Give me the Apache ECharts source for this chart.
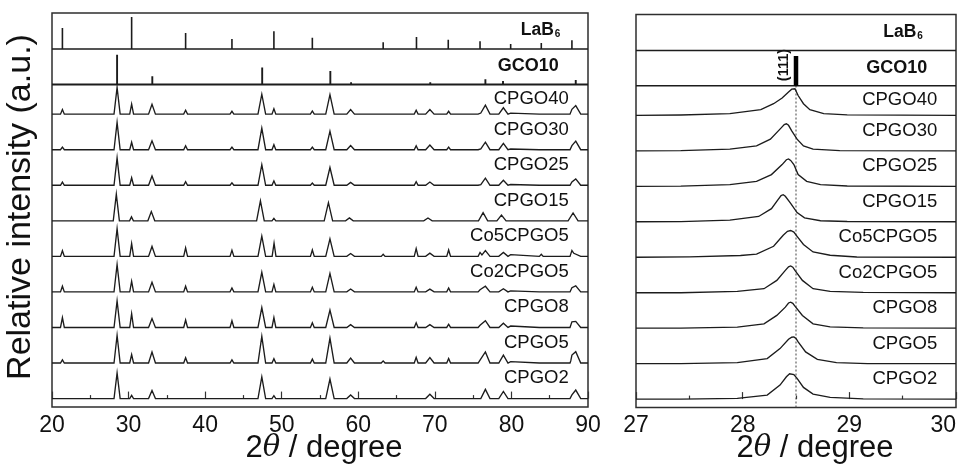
<!DOCTYPE html>
<html><head><meta charset="utf-8">
<script src="https://cdn.jsdelivr.net/npm/echarts@6/dist/echarts.min.js"></script>
<style>html,body{margin:0;padding:0;background:#fff}#c{width:971px;height:468px}</style>
</head><body><div id="c"></div>
<script>
// ---------------- DATA ----------------
// strip order, top to bottom
const stripNames = ['LaB6','GCO10','CPGO40','CPGO30','CPGO25','CPGO15','Co5CPGO5','Co2CPGO5','CPGO8','CPGO5','CPGO2'];
const xTicksLeft = [20,30,40,50,60,70,80,90];
const xTicksRight = [27,28,29,30];

// reference stick patterns [2theta, relative height]
const lab6Sticks = [[21.36,0.59],[30.4,0.90],[37.45,0.45],[43.5,0.28],[48.98,0.50],[54.0,0.32],[63.25,0.19],[67.6,0.34],[71.75,0.26],[75.9,0.22],[79.9,0.14],[83.9,0.17],[87.9,0.25]];
const gco10Sticks = [[28.5,0.84],[33.1,0.23],[47.45,0.48],[56.35,0.38],[59.06,0.06],[69.4,0.06],[76.6,0.15],[78.9,0.1],[88.4,0.13]];

// full patterns: peaks [2theta, height, half base width]
const peaksCPGO40 = [[21.36,0.13,0.25],[28.5,0.75,0.4],[30.4,0.28,0.25],[33.06,0.28,0.45],[37.45,0.11,0.25],[43.5,0.08,0.25],[47.4,0.56,0.5],[48.98,0.15,0.25],[54.0,0.09,0.25],[56.3,0.55,0.55],[59.0,0.13,0.5],[63.25,0.04,0.25],[67.56,0.11,0.25],[69.35,0.13,0.55],[71.8,0.08,0.25],[75.9,0.05,0.25],[76.6,0.25,0.6],[78.95,0.18,0.6],[79.9,0.03,0.25],[83.9,0.04,0.25],[87.9,0.08,0.25],[88.4,0.24,0.65]];
const peaksCPGO30 = [[21.36,0.07,0.25],[28.5,0.77,0.4],[30.4,0.21,0.25],[33.06,0.25,0.45],[37.45,0.11,0.25],[43.5,0.07,0.25],[47.4,0.61,0.5],[48.98,0.14,0.25],[54.0,0.07,0.25],[56.3,0.52,0.55],[59.0,0.12,0.5],[63.25,0.02,0.25],[67.56,0.11,0.25],[69.35,0.13,0.55],[71.8,0.07,0.25],[75.9,0.04,0.25],[76.6,0.21,0.6],[78.95,0.18,0.6],[79.9,0.02,0.25],[83.9,0.04,0.25],[87.9,0.06,0.25],[88.4,0.24,0.65]];
const peaksCPGO25 = [[21.36,0.09,0.25],[28.5,0.77,0.4],[30.4,0.21,0.25],[33.06,0.26,0.45],[37.45,0.10,0.25],[43.5,0.07,0.25],[47.4,0.58,0.5],[48.98,0.12,0.25],[54.0,0.06,0.25],[56.3,0.50,0.55],[59.0,0.08,0.5],[63.25,0.02,0.25],[67.56,0.10,0.25],[69.35,0.09,0.55],[71.8,0.05,0.25],[75.9,0.03,0.25],[76.6,0.20,0.6],[78.95,0.14,0.6],[79.9,0.02,0.25],[83.9,0.02,0.25],[87.9,0.05,0.25],[88.4,0.18,0.65]];
const peaksCPGO15 = [[21.36,0.05,0.25],[28.4,0.75,0.4],[30.38,0.11,0.25],[32.97,0.26,0.45],[37.45,0.05,0.25],[43.5,0.03,0.25],[47.22,0.56,0.5],[48.98,0.07,0.25],[54.0,0.04,0.25],[56.1,0.51,0.55],[58.84,0.08,0.5],[63.25,0.02,0.25],[67.56,0.04,0.25],[69.1,0.08,0.55],[71.8,0.03,0.25],[76.3,0.23,0.6],[78.7,0.16,0.6],[83.9,0.02,0.25],[88.05,0.22,0.65]];
const peaksCo5CPGO5 = [[21.36,0.16,0.25],[28.5,0.78,0.4],[30.4,0.36,0.25],[33.06,0.28,0.45],[37.45,0.24,0.25],[43.5,0.17,0.25],[47.4,0.57,0.5],[49.0,0.37,0.25],[54.0,0.18,0.25],[56.3,0.49,0.55],[59.0,0.08,0.5],[63.25,0.06,0.25],[67.56,0.22,0.25],[69.35,0.09,0.55],[71.8,0.18,0.25],[75.9,0.11,0.25],[76.6,0.16,0.6],[78.95,0.11,0.6],[79.9,0.05,0.25],[83.9,0.06,0.25],[87.9,0.13,0.25],[88.4,0.14,0.65]];
const peaksCo2CPGO5 = [[21.36,0.16,0.25],[28.5,0.77,0.4],[30.4,0.30,0.25],[33.06,0.27,0.45],[37.45,0.16,0.25],[43.5,0.11,0.25],[47.4,0.55,0.5],[48.98,0.21,0.25],[54.0,0.13,0.25],[56.3,0.52,0.55],[59.0,0.08,0.5],[63.25,0.03,0.25],[67.56,0.13,0.25],[69.35,0.08,0.55],[71.8,0.11,0.25],[75.9,0.06,0.25],[76.6,0.16,0.6],[78.95,0.09,0.6],[79.9,0.03,0.25],[83.9,0.03,0.25],[87.9,0.08,0.25],[88.4,0.17,0.65]];
const peaksCPGO8 = [[21.36,0.28,0.25],[28.5,0.75,0.4],[30.4,0.39,0.25],[33.06,0.25,0.45],[37.45,0.21,0.25],[43.5,0.19,0.25],[47.4,0.56,0.5],[48.98,0.28,0.25],[54.0,0.13,0.25],[56.3,0.49,0.55],[59.0,0.08,0.5],[63.25,0.04,0.25],[67.56,0.13,0.25],[69.35,0.08,0.55],[71.8,0.09,0.25],[75.9,0.06,0.25],[76.6,0.19,0.6],[78.95,0.12,0.6],[79.9,0.04,0.25],[83.9,0.03,0.25],[87.9,0.12,0.25],[88.4,0.17,0.65]];
const peaksCPGO5 = [[21.36,0.09,0.25],[28.5,0.78,0.4],[30.4,0.24,0.25],[33.06,0.31,0.45],[37.45,0.15,0.25],[43.5,0.09,0.25],[47.4,0.75,0.5],[48.98,0.12,0.25],[54.0,0.11,0.25],[56.3,0.70,0.55],[59.0,0.14,0.5],[63.25,0.06,0.25],[67.56,0.16,0.25],[69.35,0.15,0.55],[71.8,0.13,0.25],[75.9,0.08,0.25],[76.6,0.31,0.6],[78.95,0.22,0.6],[79.9,0.04,0.25],[83.9,0.04,0.25],[87.9,0.15,0.25],[88.4,0.32,0.65]];
const peaksCPGO2 = [[21.36,0.05,0.25],[28.5,0.72,0.4],[30.4,0.09,0.25],[33.06,0.23,0.45],[37.45,0.03,0.25],[43.5,0.03,0.25],[47.4,0.61,0.5],[48.98,0.08,0.25],[54.0,0.05,0.25],[56.3,0.55,0.55],[59.0,0.10,0.5],[63.25,0.02,0.25],[67.56,0.05,0.25],[69.35,0.12,0.55],[71.8,0.04,0.25],[76.6,0.26,0.6],[78.95,0.20,0.6],[83.9,0.02,0.25],[87.9,0.05,0.25],[88.4,0.24,0.65]];

// (111) region 27-30 deg: [2theta, intensity above baseline]
const zoomCPGO40 = [[27,0],[27.42,0.01],[27.88,0.05],[28.17,0.16],[28.29,0.33],[28.37,0.49],[28.43,0.66],[28.46,0.74],[28.49,0.75],[28.52,0.56],[28.57,0.33],[28.63,0.16],[28.76,0.05],[28.98,0.015],[30,0]];
const zoomCPGO30 = [[27,0],[27.42,0.005],[27.88,0.048],[28.13,0.141],[28.26,0.33],[28.35,0.613],[28.39,0.74],[28.41,0.763],[28.43,0.72],[28.46,0.565],[28.51,0.33],[28.57,0.141],[28.66,0.048],[28.91,0.008],[30,0]];
const zoomCPGO25 = [[27,0],[27.42,0.005],[27.88,0.048],[28.13,0.141],[28.27,0.33],[28.37,0.613],[28.41,0.75],[28.43,0.771],[28.45,0.73],[28.48,0.613],[28.52,0.33],[28.6,0.141],[28.73,0.048],[28.98,0.008],[30,0]];
const zoomCPGO15 = [[27,0],[27.42,0.005],[27.88,0.048],[28.15,0.15],[28.27,0.37],[28.33,0.62],[28.36,0.74],[28.38,0.765],[28.4,0.72],[28.45,0.52],[28.51,0.26],[28.58,0.11],[28.73,0.028],[28.98,0.008],[30,0]];
const zoomCo5CPGO5 = [[27,0],[27.5,0.01],[27.98,0.05],[28.13,0.09],[28.29,0.31],[28.38,0.62],[28.42,0.73],[28.45,0.754],[28.48,0.71],[28.51,0.59],[28.57,0.36],[28.66,0.15],[28.82,0.056],[29.07,0.008],[30,0]];
const zoomCo2CPGO5 = [[27,0],[27.42,0],[27.95,0.037],[28.2,0.113],[28.32,0.347],[28.4,0.63],[28.43,0.73],[28.45,0.754],[28.47,0.72],[28.49,0.63],[28.56,0.347],[28.66,0.113],[28.82,0.037],[29.13,0.008],[30,0]];
const zoomCPGO8 = [[27,0],[27.42,0],[27.95,0.028],[28.2,0.121],[28.32,0.359],[28.4,0.593],[28.43,0.71],[28.45,0.734],[28.47,0.7],[28.49,0.621],[28.56,0.359],[28.66,0.121],[28.82,0.037],[29.13,0.008],[30,0]];
const zoomCPGO5 = [[27,0],[27.42,0],[27.95,0.028],[28.23,0.141],[28.35,0.424],[28.43,0.686],[28.46,0.745],[28.48,0.754],[28.5,0.71],[28.52,0.613],[28.59,0.33],[28.7,0.121],[28.88,0.028],[29.17,0],[30,0]];
const zoomCPGO2 = [[27,0],[27.42,0],[27.95,0.02],[28.23,0.113],[28.35,0.395],[28.41,0.63],[28.44,0.715],[28.455,0.726],[28.48,0.69],[28.51,0.585],[28.57,0.33],[28.66,0.141],[28.82,0.048],[29.13,0.008],[30,0]];

const samplePeaks = [peaksCPGO40,peaksCPGO30,peaksCPGO25,peaksCPGO15,peaksCo5CPGO5,peaksCo2CPGO5,peaksCPGO8,peaksCPGO5,peaksCPGO2];
const sampleZoom  = [zoomCPGO40,zoomCPGO30,zoomCPGO25,zoomCPGO15,zoomCo5CPGO5,zoomCo2CPGO5,zoomCPGO8,zoomCPGO5,zoomCPGO2];

// ---------------- LAYOUT ----------------
const yMin = -0.237, yMax = 10.845;
const stripBase = [9.831, 8.834, 8, 7, 6, 5, 4, 3, 2, 1, 0];
const FONT = '"Liberation Sans", Arial, Helvetica, sans-serif';
const INK = '#111';

function peakTrace(peaks, base, x0, x1) {
  const xs = new Set([x0, x1]);
  peaks.forEach(([p, h, w]) => { xs.add(+(p - w).toFixed(4)); xs.add(p); xs.add(+(p + w).toFixed(4)); });
  return [...xs].filter(x => x >= x0 && x <= x1).sort((a, b) => a - b)
    .map(x => [x, base + peaks.reduce((s, [p, h, w]) => s + Math.max(0, h * (1 - Math.abs(x - p) / w)), 0)]);
}
function stickTrace(sticks, base, x0, x1) {
  const pts = [[x0, base]];
  sticks.filter(s => s[0] >= x0 && s[0] <= x1).forEach(([p, h]) => pts.push([p, base], [p, base + h], [p, base]));
  pts.push([x1, base]);
  return pts;
}
function line(data, ax, width, extra) {
  return Object.assign({ type: 'line', xAxisIndex: ax, yAxisIndex: ax, data, symbol: 'none', showSymbol: false,
    silent: true, animation: false, clip: true, lineStyle: { color: '#1c1c1c', width, join: 'miter' }, z: 3 }, extra || {});
}

const series = [];
// left panel
series.push(line(stickTrace(lab6Sticks, stripBase[0], 20, 90), 0, 1.6));
series.push(line(stickTrace(gco10Sticks, stripBase[1], 20, 90), 0, 1.9));
samplePeaks.forEach((pk, i) => series.push(line(peakTrace(pk, stripBase[i + 2], 20, 90), 0, 1.35)));
// right panel
series.push(line(stickTrace([], stripBase[0], 27, 30), 1, 1.5));
series.push(line(stickTrace([], stripBase[1], 27, 30), 1, 1.5));
gco10Sticks.filter(s => s[0] >= 27 && s[0] <= 30).forEach(([p, h]) =>
  series.push(line([[p, stripBase[1]], [p, stripBase[1] + h]], 1, 4.5, { lineStyle: { color: '#000', width: 4.5, cap: 'butt' } })));
sampleZoom.forEach((zd, i) => series.push(line(zd.map(([x, h]) => [x, stripBase[i + 2] + h]), 1, 1.35)));
// dashed reference line at GCO10 (111)
const ref111 = gco10Sticks[0][0];
series.push(line([[ref111, yMin], [ref111, stripBase[1]]], 1, 1, { lineStyle: { color: '#444', width: 1, type: [2, 2] }, z: 2 }));

// strip labels
function labelItems(xNormal, xBold, xLab) {
  return stripNames.map((nm, k) => {
    const above = k === 0 ? yMax : stripBase[k - 1];
    const y = (stripBase[k] + above) / 2 + (k >= 3 ? 0.07 : 0.01);
    const item = { name: nm, value: [k === 0 ? xLab : (k === 1 ? xBold : xNormal), y] };
    if (k === 0) item.label = { formatter: '{m|LaB}{s|6}' };
    else if (k === 1) item.label = { fontWeight: 'bold', fontSize: 18 };
    return item;
  });
}
const labelCommon = { show: true, position: 'left', distance: 0, fontFamily: FONT, fontSize: 18.5, color: INK, opacity: 1,
  rich: { m: { fontFamily: FONT, fontSize: 17.5, fontWeight: 'bold', color: INK, lineHeight: 18, verticalAlign: 'top' },
          s: { fontFamily: FONT, fontSize: 10, fontWeight: 'bold', color: INK, lineHeight: 10, padding: [14, 0, 0, 1], verticalAlign: 'bottom' } } };
function labelSeries(ax, items) {
  return { type: 'scatter', xAxisIndex: ax, yAxisIndex: ax, symbolSize: 0, silent: true, animation: false, z: 5,
    itemStyle: { opacity: 1 }, data: items, label: Object.assign({ formatter: '{b}' }, labelCommon) };
}
series.push(labelSeries(0, labelItems(87.49, 86.18, 86.4)));
series.push(labelSeries(1, labelItems(29.824, 29.73, 29.69)));
// (111) annotation
series.push({ type: 'scatter', xAxisIndex: 1, yAxisIndex: 1, symbolSize: 0, silent: true, animation: false, z: 5,
  itemStyle: { opacity: 1 },
  data: [{ name: '(111)', value: [28.383, 9.42] }],
  label: { show: true, position: 'inside', rotate: 90, formatter: '{b}', fontFamily: FONT, fontSize: 14.5, fontWeight: 'bold', color: INK, opacity: 1 } });

function xAxis(grid, min, max, interval, extraLabel) {
  return { type: 'value', gridIndex: grid, min, max, interval,
    axisLine: { show: false }, splitLine: { show: false },
    axisTick: { show: true, inside: true, length: 7, lineStyle: { color: '#333', width: 1.2 } },
    minorTick: { show: true, splitNumber: 2, length: 3.5, lineStyle: { color: '#333', width: 1.2 } },
    axisLabel: Object.assign({ fontFamily: FONT, fontSize: 23, color: '#111', margin: 7 }, extraLabel || {}) };
}
function yAxis(grid) { return { type: 'value', gridIndex: grid, min: yMin, max: yMax, show: false }; }

const titleRich = {
  a: { fontFamily: FONT, fontSize: 31, fill: '#111', color: '#111' },
  t: { fontFamily: 'DejaVu Serif, serif', fontStyle: 'italic', fontSize: 29, fill: '#111', color: '#111' }
};
function xTitle(cx) {
  return { type: 'text', x: cx, y: 433, silent: true,
    style: { text: '{a|2}{t|θ}{a| / degree}', rich: titleRich, align: 'center', textAlign: 'center', verticalAlign: 'top', textVerticalAlign: 'top', fill: '#111' } };
}

const chart = echarts.init(document.getElementById('c'), null, { renderer: 'canvas' });
chart.setOption({
  backgroundColor: '#fff',
  animation: false,
  grid: [
    { left: 52, top: 13, width: 536, height: 394, show: true, borderColor: '#2e2e2e', borderWidth: 1.5, backgroundColor: 'transparent', containLabel: false },
    { left: 636, top: 14.5, width: 320, height: 393, show: true, borderColor: '#2e2e2e', borderWidth: 1.5, backgroundColor: 'transparent', containLabel: false }
  ],
  xAxis: [xAxis(0, xTicksLeft[0], xTicksLeft[xTicksLeft.length - 1], 10),
          xAxis(1, xTicksRight[0], xTicksRight[xTicksRight.length - 1], 1, { alignMaxLabel: 'right' })],
  yAxis: [yAxis(0), yAxis(1)],
  series,
  graphic: [
    { type: 'text', x: 21, y: 207, rotation: Math.PI / 2, silent: true,
      style: { text: 'Relative intensity (a.u.)', font: '34px ' + FONT, fill: '#111', align: 'center', textAlign: 'center', verticalAlign: 'middle', textVerticalAlign: 'middle' } },
    xTitle(324), xTitle(815)
  ]
});
</script></body></html>
